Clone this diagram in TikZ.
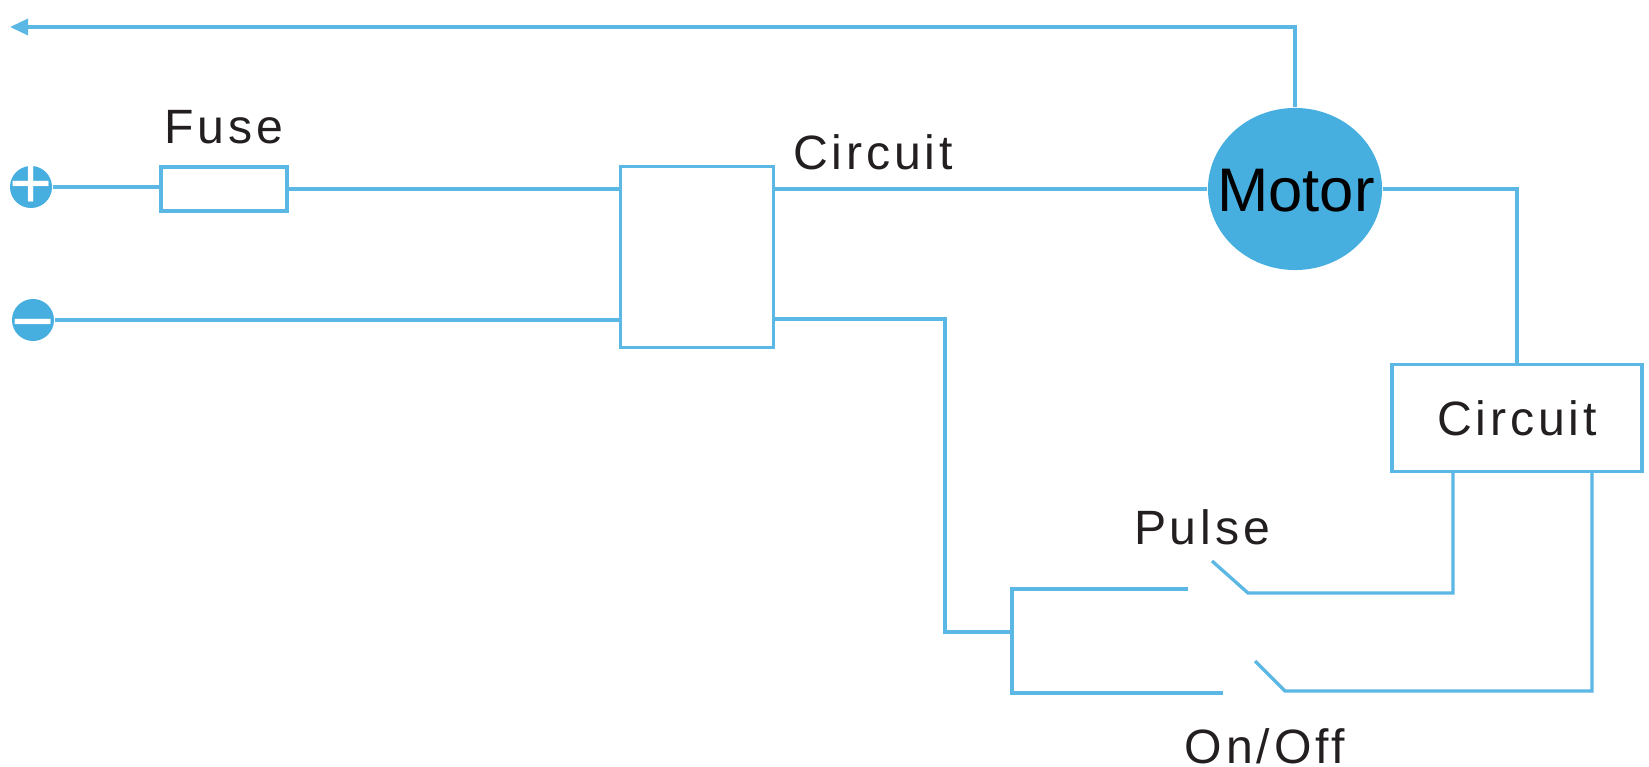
\documentclass[tikz,border=0pt]{standalone}
\usepackage{fontspec}
\setmainfont{Liberation Sans}
\newfontfamily\labelfont[LetterSpace=8]{Liberation Sans}
\usetikzlibrary{arrows.meta, shapes.geometric}
\definecolor{wireblue}{HTML}{5BB7E3}
\definecolor{motorblue}{HTML}{47AEE0}
\definecolor{labelblack}{HTML}{231F20}
\tikzset{
    wire/.style={draw=wireblue, line width=0.95pt},
    box/.style={draw=wireblue, line width=0.95pt, inner sep=0pt},
    pole/.style={circle, fill=motorblue, minimum size=0.42cm, inner sep=0pt},
    polesign/.style={text=white, inner sep=0pt, font=\fontsize{21}{21}\selectfont},
    tag/.style={text=labelblack, inner sep=0pt, font=\labelfont\fontsize{13.7}{13.7}\selectfont},
}
\begin{document}
\begin{tikzpicture}[x=0.01cm, y=-0.01cm]
    \useasboundingbox (0,0) rectangle (1649,767);
    
    \node [pole] (plus) at (31,187) {};
    \node [polesign] (plussign) at (plus) {+};
    \node [pole] (minus) at (33,320) {};
    \node [polesign, yshift=-0.125cm] (minussign) at (minus) {\char"2212};
    \node [box, minimum width=1.26cm, minimum height=0.44cm] (fuse) at (224,189) {};
    \node [box, minimum width=1.53cm, minimum height=1.81cm] (mainbox) at (697,257) {};
    \node [ellipse, fill=motorblue, minimum width=1.74cm, minimum height=1.62cm, inner sep=0pt] (motor) at (1295,189) {};
    \node [text=black, inner sep=0pt, font=\fontsize{17.5}{17.5}\selectfont] (motorname) at (1296,191) {Motor};
    \node [box, minimum width=2.50cm, minimum height=1.07cm, tag] (ctrlbox) at (1517,418) {Circuit};
    
    \node [tag] (fuselabel) at (224,127) {Fuse};
    \node [tag] (circuitlabel) at (873,152) {Circuit};
    \node [tag] (pulselabel) at (1202,527) {Pulse};
    \node [tag, anchor=base] (onofflabel) at (1265,763) {On/Off};
    
    \coordinate (tipend) at (10,27);
    \draw [wire, -{Triangle[length=1.8mm, width=1.6mm]}] (motor.north) |- (tipend);
    
    \draw [wire] (plus.east) -- (plus.east -| fuse.west);
    \draw [wire] (fuse.east) -- (fuse.east -| mainbox.west);
    \draw [wire] (minus.east) -- (minus.east -| mainbox.west);
    \draw [wire] (motor.west) -- (motor.west -| mainbox.east);
    \draw [wire] (motor.east) -| (ctrlbox.north);
    
    \coordinate (feedbend) at (945,319);
    \coordinate (feedend) at (1012,632);
    \draw [wire] (feedbend -| mainbox.east) -- (feedbend) |- (feedend);
    
    % pulse switch
    \coordinate (pulsecorner) at (1012,589);
    \coordinate (pulseopen) at (1188,589);
    \coordinate (pulsearm) at (1212,561);
    \coordinate (pulseknee) at (1248,593);
    \coordinate (pulseleg) at (1453,472);
    \draw [wire] (feedend) -- (pulsecorner) -- (pulseopen);
    \draw [wire] (pulsearm) -- (pulseknee) -| (pulseleg);
    
    % on/off switch
    \coordinate (oncorner) at (1012,693);
    \coordinate (onopen) at (1223,693);
    \coordinate (onarm) at (1255,661);
    \coordinate (onknee) at (1285,691);
    \coordinate (onleg) at (1592,472);
    \draw [wire] (feedend) -- (oncorner) -- (onopen);
    \draw [wire] (onarm) -- (onknee) -| (onleg);
    
\end{tikzpicture}
\end{document}
